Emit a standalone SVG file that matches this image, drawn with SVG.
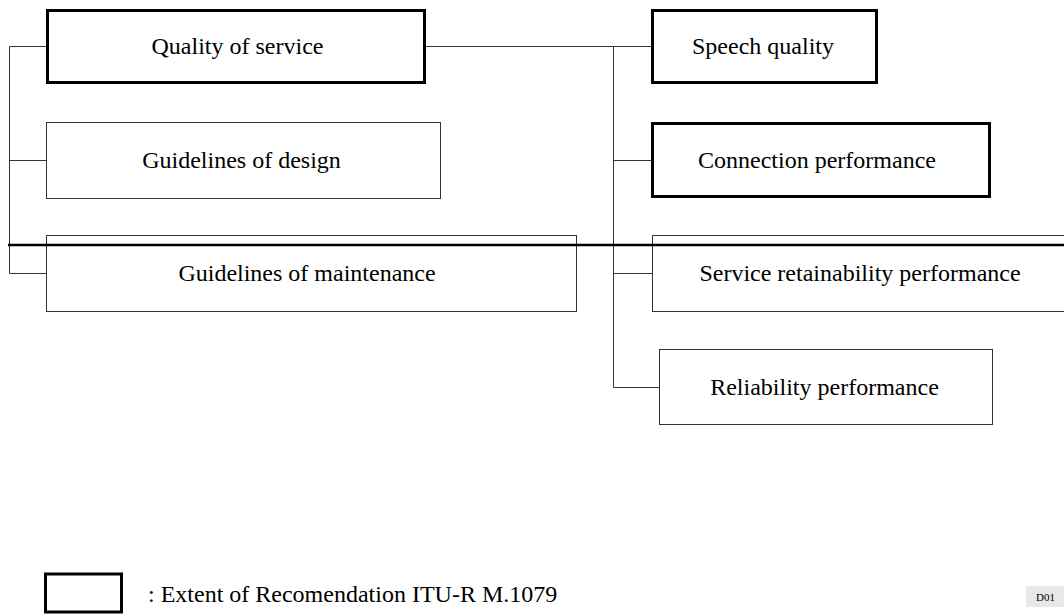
<svg xmlns="http://www.w3.org/2000/svg" width="1064" height="615" viewBox="0 0 1064 615">
<style>
.box{fill:#fff;stroke:#333;stroke-width:1}
.thick{fill:#fff;stroke:#000;stroke-width:3}
.lbl{font-family:"Liberation Serif","Times New Roman",serif;font-size:24px;fill:#000;text-anchor:middle}
.conn line{stroke:#333;stroke-width:1;fill:none}
</style>
<rect width="1064" height="615" fill="#fff"/>
<g id="connectors" class="conn">
<line x1="9.5" y1="46.5" x2="9.5" y2="273.5"/>
<line x1="9.5" y1="46.5" x2="46" y2="46.5"/>
<line x1="9.5" y1="160.5" x2="46.5" y2="160.5"/>
<line x1="9.5" y1="273.5" x2="46.5" y2="273.5"/>
<line x1="426" y1="46.5" x2="651" y2="46.5"/>
<line x1="613.5" y1="46.5" x2="613.5" y2="387.5"/>
<line x1="613.5" y1="160.5" x2="651" y2="160.5"/>
<line x1="613.5" y1="273.5" x2="652.5" y2="273.5"/>
<line x1="613.5" y1="387.5" x2="659.5" y2="387.5"/>
</g>
<g id="n-quality">
<rect class="thick" x="47.5" y="10.5" width="377" height="72"/>
<text class="lbl" x="237.5" y="54">Quality of service</text>
</g>
<g id="n-design">
<rect class="box" x="46.5" y="122.5" width="394" height="76"/>
<text class="lbl" x="241.5" y="168">Guidelines of design</text>
</g>
<g id="n-maintenance">
<rect class="box" x="46.5" y="235.5" width="530" height="76"/>
<text class="lbl" x="307" y="281">Guidelines of maintenance</text>
</g>
<g id="n-speech">
<rect class="thick" x="652.5" y="10.5" width="224" height="72"/>
<text class="lbl" x="763" y="54">Speech quality</text>
</g>
<g id="n-connection">
<rect class="thick" x="652.5" y="123.5" width="337" height="73"/>
<text class="lbl" x="817" y="168">Connection performance</text>
</g>
<g id="n-retainability">
<rect class="box" x="652.5" y="235.5" width="420" height="76"/>
<text class="lbl" x="860" y="281">Service retainability performance</text>
</g>
<g id="n-reliability">
<rect class="box" x="659.5" y="349.5" width="333" height="75"/>
<text class="lbl" x="824.5" y="395">Reliability performance</text>
</g>
<line id="divider" x1="8" y1="245" x2="1064" y2="245" stroke="#000" stroke-width="2.5"/>
<g id="legend">
<rect class="thick" x="45.5" y="574" width="76" height="38"/>
<text x="148" y="602" style="font-family:'Liberation Serif','Times New Roman',serif;font-size:24px;fill:#000">: Extent of Recomendation ITU-R M.1079</text>
</g>
<g id="tag">
<rect x="1026" y="586" width="38" height="21" fill="#e8e8e8"/>
<text x="1045.5" y="601" style="font-family:'Liberation Serif','Times New Roman',serif;font-size:11px;fill:#000;text-anchor:middle">D01</text>
</g>
</svg>
